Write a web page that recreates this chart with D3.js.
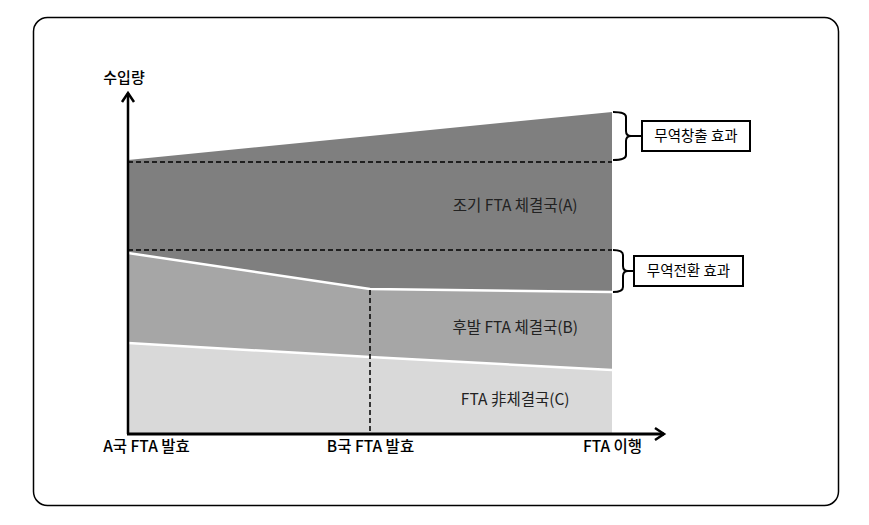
<!DOCTYPE html>
<html>
<head>
<meta charset="utf-8">
<script src="https://cdn.jsdelivr.net/npm/d3@7"></script>
<style>
  html, body { margin: 0; padding: 0; background: #fff; }
  svg { display: block; font-family: "Noto Sans CJK KR", "Noto Sans", sans-serif; }
</style>
</head>
<body>
<svg id="canvas" width="869" height="525"></svg>
<script>
// time points on the x axis
var periods = ['A국 FTA 발효', 'B국 FTA 발효', 'FTA 이행'];
// import volume per group at each time point (stacked bottom to top)
var nonMembers = [91, 77, 64];     // FTA 非체결국(C)
var lateMembers = [90, 68, 78];    // 후발 FTA 체결국(B)
var earlyMembers = [93, 153, 180]; // 조기 FTA 체결국(A)
var layerNames = ['FTA 非체결국(C)', '후발 FTA 체결국(B)', '조기 FTA 체결국(A)'];
var layerColors = ['#d9d9d9', '#a6a6a6', '#7f7f7f'];
// reference levels (dashed): initial total, initial B+C
var refLevels = [272, 184];
var effects = ['무역창출 효과', '무역전환 효과'];

var svg = d3.select('#canvas');

var x = d3.scaleLinear().domain([0, 2]).range([128, 612]);
var y = d3.scaleLinear().domain([0, 340]).range([434, 94]);

var rows = periods.map(function(p, i) {
    return { i: i, C: nonMembers[i], B: lateMembers[i], A: earlyMembers[i] };
});
var stack = d3.stack().keys(['C', 'B', 'A']);
var series = stack(rows);

// outer frame
svg.append('rect')
    .attr('x', 33.5).attr('y', 17.5)
    .attr('width', 805).attr('height', 488)
    .attr('rx', 14).attr('ry', 14)
    .style('fill', 'none')
    .style('stroke', '#000')
    .style('stroke-width', 1.5);

var area = d3.area()
    .x(function(d) { return x(d.data.i); })
    .y0(function(d) { return y(d[0]); })
    .y1(function(d) { return y(d[1]); });

svg.selectAll('path.layer')
    .data(series)
    .enter()
    .append('path')
    .attr('class', 'layer')
    .attr('d', area)
    .style('fill', function(d, i) { return layerColors[i]; });

// white separators between layers
var topLine = d3.line()
    .x(function(d) { return x(d.data.i); })
    .y(function(d) { return y(d[1]); });

svg.selectAll('path.sep')
    .data(series.slice(0, 2))
    .enter()
    .append('path')
    .attr('class', 'sep')
    .attr('d', topLine)
    .style('fill', 'none')
    .style('stroke', '#fff')
    .style('stroke-width', 2.5);

// dashed reference levels
svg.selectAll('line.ref')
    .data(refLevels)
    .enter()
    .append('line')
    .attr('class', 'ref')
    .attr('x1', x(0)).attr('x2', x(2))
    .attr('y1', function(d) { return y(d); })
    .attr('y2', function(d) { return y(d); })
    .style('stroke', '#000')
    .style('stroke-width', 1.5)
    .style('stroke-dasharray', '5,3');

// vertical dashed at B FTA
svg.append('line')
    .attr('x1', x(1)).attr('x2', x(1))
    .attr('y1', y(series[1][1][1]) + 1)
    .attr('y2', y(0))
    .style('stroke', '#000')
    .style('stroke-width', 1.5)
    .style('stroke-dasharray', '5,3');

// layer labels
var lx = 1.6;
function valAt(arr, t) {
    return arr[1] + (arr[2] - arr[1]) * (t - 1);
}
var cTop = valAt(nonMembers, lx);
var bTop = cTop + valAt(lateMembers, lx);
var labelY = [cTop / 2, (cTop + bTop) / 2, (refLevels[0] + refLevels[1]) / 2];

svg.selectAll('text.layerLabel')
    .data(layerNames)
    .enter()
    .append('text')
    .attr('class', 'layerLabel')
    .attr('x', x(lx))
    .attr('y', function(d, i) { return y(labelY[i]); })
    .attr('dy', '0.35em')
    .attr('text-anchor', 'middle')
    .style('font-size', '15.5px')
    .style('fill', '#222')
    .text(function(d) { return d; });

// axes
svg.append('line')
    .attr('x1', x(0)).attr('x2', x(0))
    .attr('y1', y(0)).attr('y2', 93)
    .style('stroke', '#000').style('stroke-width', 2.5);
svg.append('path')
    .attr('d', 'M' + (x(0) - 6) + ',' + 102 + 'L' + x(0) + ',' + 93 + 'L' + (x(0) + 6) + ',' + 102)
    .style('fill', 'none').style('stroke', '#000').style('stroke-width', 2.5);

svg.append('line')
    .attr('x1', x(0) - 1).attr('x2', 664)
    .attr('y1', y(0)).attr('y2', y(0))
    .style('stroke', '#000').style('stroke-width', 3);
svg.append('path')
    .attr('d', 'M' + 655 + ',' + (y(0) - 6) + 'L' + 664 + ',' + y(0) + 'L' + 655 + ',' + (y(0) + 6))
    .style('fill', 'none').style('stroke', '#000').style('stroke-width', 2.5);

var xAxis = d3.axisBottom(x)
    .tickValues([0, 1, 2])
    .tickSize(0)
    .tickPadding(7)
    .tickFormat(function(d) { return periods[d]; });

var gx = svg.append('g')
    .attr('transform', 'translate(0,' + y(0) + ')')
    .call(xAxis);
gx.select('.domain').remove();
gx.selectAll('text')
    .style('font-family', '"Noto Sans CJK KR", sans-serif')
    .style('font-size', '15.5px')
    .style('font-weight', 500)
    .style('fill', '#000')
    .attr('dx', function(d) { return d === 0 ? 18 : 0; });

svg.append('text')
    .attr('x', 124).attr('y', 78)
    .attr('dy', '0.35em')
    .attr('text-anchor', 'middle')
    .style('font-size', '15px')
    .style('font-weight', 500)
    .text('수입량');

// braces and effect boxes
var total2 = series[2][2][1];
var bc2 = series[1][2][1];
var braces = [
    { top: y(total2), bot: y(refLevels[0]) - 2, x0: 613, x1: 626, tip: 641, bx: 642, bw: 108 },
    { top: y(refLevels[1]), bot: y(bc2), x0: 613, x1: 623, tip: 634, bx: 634, bw: 109 }
];

braces.forEach(function(b, i) {
    var mid = (b.top + b.bot) / 2;
    var r = 5;
    var p = 'M' + b.x0 + ',' + b.top +
        'Q' + b.x1 + ',' + b.top + ' ' + b.x1 + ',' + (b.top + r) +
        'L' + b.x1 + ',' + (mid - r) +
        'Q' + b.x1 + ',' + mid + ' ' + (b.x1 + r) + ',' + mid +
        'L' + b.tip + ',' + mid +
        'M' + (b.x1 + r) + ',' + mid +
        'Q' + b.x1 + ',' + mid + ' ' + b.x1 + ',' + (mid + r) +
        'L' + b.x1 + ',' + (b.bot - r) +
        'Q' + b.x1 + ',' + b.bot + ' ' + b.x0 + ',' + b.bot;
    svg.append('path')
        .attr('d', p)
        .style('fill', 'none')
        .style('stroke', '#000')
        .style('stroke-width', 2);

    svg.append('rect')
        .attr('x', b.bx).attr('y', mid - 15)
        .attr('width', b.bw).attr('height', 30)
        .style('fill', '#fff')
        .style('stroke', '#000')
        .style('stroke-width', 2);

    svg.append('text')
        .attr('x', b.bx + b.bw / 2)
        .attr('y', mid)
        .attr('dy', '0.35em')
        .attr('text-anchor', 'middle')
        .style('font-size', '14.5px')
        .style('fill', '#000')
        .text(effects[i]);
});
</script>
</body>
</html>
